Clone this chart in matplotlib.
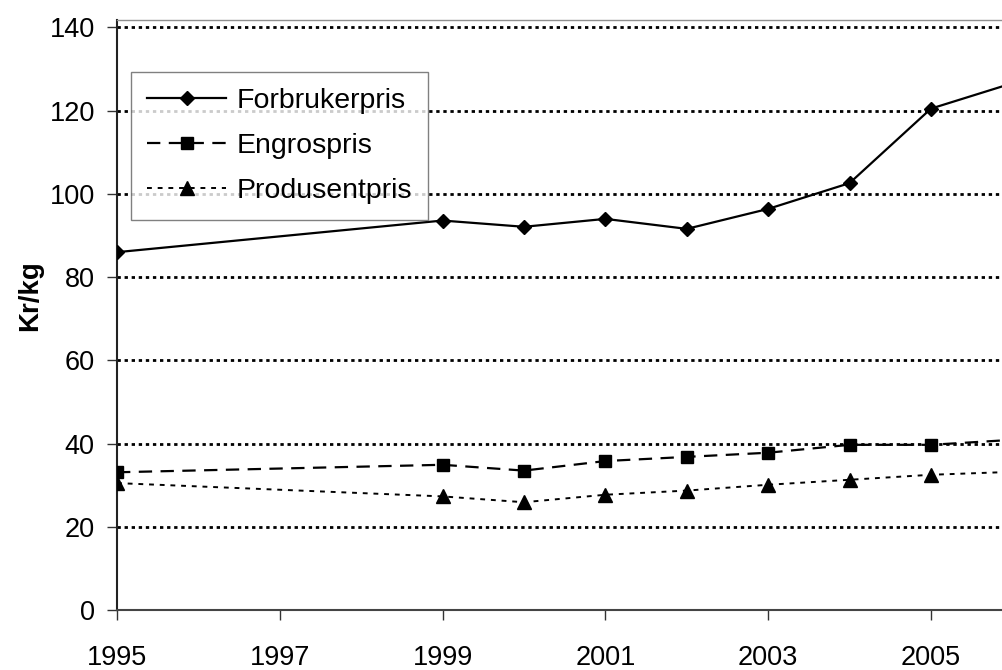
"""Kr/kg price chart: consumer, wholesale and producer prices."""

import matplotlib

matplotlib.use("Agg")
import matplotlib.pyplot as plt

plt.rcParams["font.family"] = ["Liberation Sans", "DejaVu Sans"]

years = [1995, 1999, 2000, 2001, 2002, 2003, 2004, 2005, 2006]
forbrukerpris = [86.0, 93.6, 92.1, 94.0, 91.6, 96.4, 102.6, 120.5, 126.6]
engrospris = [33.1, 34.9, 33.5, 35.8, 36.8, 37.8, 39.7, 39.7, 40.9]
produsentpris = [30.5, 27.3, 25.9, 27.7, 28.7, 30.1, 31.3, 32.5, 33.2]

y_ticks = [0, 20, 40, 60, 80, 100, 120, 140]
x_ticks = [1995, 1997, 1999, 2001, 2003, 2005]

fig = plt.figure(figsize=(10.03, 6.70), dpi=100)
ax = fig.add_axes([117 / 1003, 1 - 610 / 670, 1 - 117 / 1003, 590 / 670])

# dotted horizontal gridlines, like the old spreadsheet chart
for y in y_ticks[1:]:
    ax.axhline(y, color="black", linewidth=2, linestyle=(0, (1.2, 1.35)), zorder=1)

ax.plot(years, forbrukerpris, color="black", linewidth=1.6, marker="D",
        markersize=7.5, label="Forbrukerpris", zorder=3)
ax.plot(years, engrospris, color="black", linewidth=1.6, linestyle=(0, (6, 3.8)),
        marker="s", markersize=8.5, label="Engrospris", zorder=3)
ax.plot(years, produsentpris, color="black", linewidth=1.4, linestyle=(0, (2.5, 3)),
        marker="^", markersize=10, label="Produsentpris", zorder=3)

ax.set_xlim(1995, 2005.885)
ax.set_ylim(0, 141.8)
ax.set_xticks(x_ticks)
ax.set_yticks(y_ticks)
ax.tick_params(axis="both", direction="out", length=7, width=1, labelsize=19.5,
               color="#333333")
ax.tick_params(axis="y", pad=9)
ax.tick_params(axis="x", pad=18)

ax.spines["right"].set_visible(False)
ax.spines["top"].set_color("#909090")
ax.spines["top"].set_linewidth(1)
ax.spines["left"].set_linewidth(1.5)
ax.spines["bottom"].set_linewidth(1.5)
ax.spines["left"].set_color("#222222")
ax.spines["bottom"].set_color("#444444")

ax.set_ylabel("Kr/kg", fontsize=20, fontweight="bold")
ax.yaxis.set_label_coords(-0.0835, 0.532)

leg = fig.legend(loc="upper left", bbox_to_anchor=(131 / 1003, 1 - 72 / 670),
                 borderaxespad=0, fontsize=20.5, numpoints=1, frameon=True,
                 fancybox=False, handlelength=2.8, handletextpad=0.35,
                 labelspacing=0.68, borderpad=0.55)
leg.get_frame().set_edgecolor("#606060")
leg.get_frame().set_linewidth(1)

fig.savefig("out.png", dpi=100)
plt.close(fig)
